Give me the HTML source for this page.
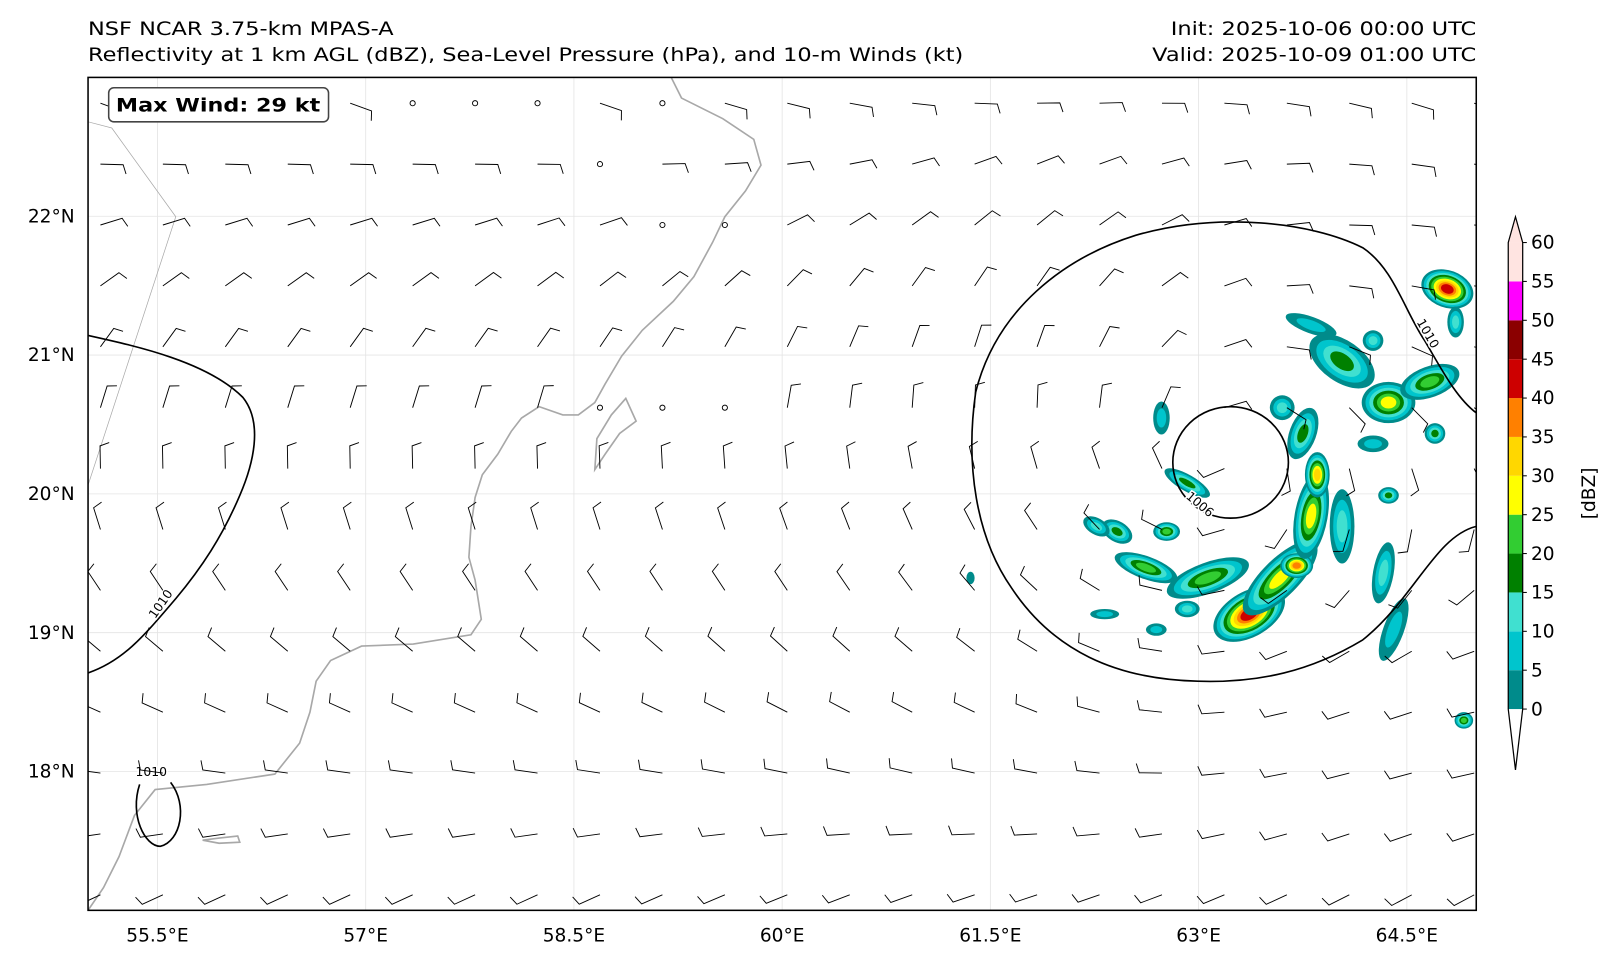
<!DOCTYPE html>
<html><head><meta charset="utf-8"><style>
html,body{margin:0;padding:0;background:#fff;}
svg{display:block;font-family:"DejaVu Sans","Liberation Sans",sans-serif;}
</style></head><body>
<svg id="map" width="1619" height="964" viewBox="0 0 1568 934">
<text x="85" y="34" font-size="18" textLength="296" lengthAdjust="spacingAndGlyphs">NSF NCAR 3.75-km MPAS-A</text>
<text x="85" y="59" font-size="18" textLength="848" lengthAdjust="spacingAndGlyphs">Reflectivity at 1 km AGL (dBZ), Sea-Level Pressure (hPa), and 10-m Winds (kt)</text>
<text x="1430" y="34" font-size="18" text-anchor="end" textLength="296" lengthAdjust="spacingAndGlyphs">Init: 2025-10-06 00:00 UTC</text>
<text x="1430" y="59" font-size="18" text-anchor="end" textLength="314" lengthAdjust="spacingAndGlyphs">Valid: 2025-10-09 01:00 UTC</text>
<defs><clipPath id="clip"><rect x="85" y="75" width="1345" height="807"/></clipPath></defs>
<g id="grid"></g>
<g id="refl" clip-path="url(#clip)"></g>
<g clip-path="url(#clip)" fill="none" stroke="#a8a8a8" stroke-width="1.6">
<path d="M650,75 L660,95 L700,115 L730,135 L737,160 L722,185 L702,210 L690,235 L672,268 L652,292 L622,320 L602,345 L586,372 L576,390 L560,402 L545,402 L522,394 L505,405 L495,418 L482,440 L467,460 L460,482 L456,510 L454,540 L460,562 L466,600 L456,615 L400,624 L350,626 L320,640 L306,660 L300,690 L290,720 L266,750 L200,760 L150,765 L130,790 L115,830 L100,860 L85,882"/>
<path d="M576,455 L578,425 L592,402 L606,386 L616,408 L600,420 L586,440 Z"/>
<path d="M196,814 L212,812 L230,810 L232,816 L212,817 Z"/>
<path d="M85,118 L108,124 L170,210 L85,470" stroke-width="0.7"/>
</g>
<g clip-path="url(#clip)" fill="none" stroke="#000" stroke-width="1.6">
<path d="M85,325 C130,335 200,350 235,385 C255,410 245,450 232,480 C215,520 195,550 170,580 C140,615 120,640 85,652"/>
<path d="M135,760 C125,790 140,820 155,820 C175,815 182,780 165,758"/>
<path d="M1430,510 C1390,520 1370,580 1320,620 C1270,650 1220,662 1160,660 C1080,658 1020,630 980,570 C945,520 935,450 945,380 C965,300 1030,250 1100,228 C1180,205 1270,215 1320,240 C1350,260 1360,300 1380,330 C1395,355 1410,385 1430,400"/>
<ellipse cx="1192" cy="448" rx="56" ry="54"/>
</g>
<text x="150" y="600" font-size="12" transform="rotate(-55 150 600)" stroke="#fff" stroke-width="3" paint-order="stroke">1010</text>
<text x="131" y="752" font-size="12" stroke="#fff" stroke-width="3" paint-order="stroke">1010</text>
<text x="1372" y="312" font-size="12" transform="rotate(60 1372 312)" stroke="#fff" stroke-width="3" paint-order="stroke">1010</text>
<text x="1148" y="482" font-size="12" transform="rotate(40 1148 482)" stroke="#fff" stroke-width="3" paint-order="stroke">1006</text>
<g id="barbs" clip-path="url(#clip)" stroke="#000" stroke-width="0.9" fill="none"></g>
<rect x="85" y="75" width="1345" height="807" fill="none" stroke="#000" stroke-width="1.5"/>
<rect x="105" y="85" width="213" height="33" rx="5" fill="#fff" stroke="#444" stroke-width="1.5"/>
<text x="112" y="108" font-size="18" font-weight="bold" textLength="198" lengthAdjust="spacingAndGlyphs">Max Wind: 29 kt</text>
<g id="axes"></g>
<g id="cbar"></g>
<text x="1545" y="478" font-size="18" text-anchor="middle" transform="rotate(-90 1545 478)">[dBZ]</text>
</svg>
<script>
const NS="http://www.w3.org/2000/svg";
const lonTicks=[55.5,57,58.5,60,61.5,63,64.5];
const lonLabels=["55.5°E","57°E","58.5°E","60°E","61.5°E","63°E","64.5°E"];
const latTicks=[18,19,20,21,22];
const latLabels=["18°N","19°N","20°N","21°N","22°N"];
const cbLevels=[0,5,10,15,20,25,30,35,40,45,50,55,60];
const cbColors=["#008b8b","#00c5cd","#40e0d0","#008000","#32cd32","#ffff00","#ffd700","#ff8000","#cd0000","#8b0000","#ff00ff","#ffe4e1"];
const calmStations=[[5,0],[6,0],[7,0],[9,0],[8,1],[9,2],[10,2],[8,5],[9,5],[10,5]];
const X=lon=>85+(lon-55)*134.5;
const Y=lat=>882-(lat-17)*134.5;
const CB=v=>687-v*(452/60);
function mk(tag,attrs,parent){const e=document.createElementNS(NS,tag);for(const k in attrs)e.setAttribute(k,attrs[k]);parent.appendChild(e);return e;}
const grid=document.getElementById('grid'),axes=document.getElementById('axes');
lonTicks.forEach((l,i)=>{
  const g=mk('line',{x1:X(l),x2:X(l),y1:75,y2:882,stroke:'#e4e4e4','stroke-width':0.8},grid);
  
  
  const t=mk('text',{x:X(l),y:912,'font-size':18,'text-anchor':'middle'},axes);t.textContent=lonLabels[i];
  
  
});
latTicks.forEach((l,i)=>{
  const g=mk('line',{x1:85,x2:1430,y1:Y(l),y2:Y(l),stroke:'#e4e4e4','stroke-width':0.8},grid);
  
  
  const t=mk('text',{x:72,y:Y(l)+6,'font-size':18,'text-anchor':'end'},axes);t.textContent=latLabels[i];
  
  
});
const cb=document.getElementById('cbar');
const cx0=1461,cw=14;
let tri=mk('polygon',{points:`${cx0},${CB(60)} ${cx0+cw/2},210 ${cx0+cw},${CB(60)}`,fill:'#ffe4e1',stroke:'none'},cb);

tri=mk('polygon',{points:`${cx0},${CB(0)} ${cx0+cw/2},746 ${cx0+cw},${CB(0)}`,fill:'#fff',stroke:'none'},cb);

cbColors.forEach((c,i)=>{
  const r=mk('rect',{x:cx0,y:CB(cbLevels[i+1]),width:cw,height:CB(cbLevels[i])-CB(cbLevels[i+1]),fill:c},cb);
  
  
});
mk('path',{d:`M${cx0},${CB(0)} L${cx0},${CB(60)} L${cx0+cw/2},210 L${cx0+cw},${CB(60)} L${cx0+cw},${CB(0)} L${cx0+cw/2},746 Z`,fill:'none',stroke:'#000','stroke-width':1.2},cb);
cbLevels.forEach(v=>{
  mk('line',{x1:cx0+cw,x2:cx0+cw+4,y1:CB(v),y2:CB(v),stroke:'#000'},cb);
  const t=mk('text',{x:cx0+cw+8,y:CB(v)+6,'font-size':18},cb);t.textContent=v;
  
  
});
const blobs=[[1210,595,38,22,-30,8],[1240,560,48,18,-45,5],[1256,548,16,12,0,7],[1270,500,16,42,10,5],[1276,460,12,22,0,6],[1262,420,13,26,20,3],[1242,395,12,12,0,2],
[1170,560,42,15,-20,4],[1110,550,32,11,20,4],[1082,515,16,10,30,3],[1130,515,13,9,0,4],[1062,510,14,8,30,2],[1125,405,8,16,0,1],[1150,468,25,8,30,3],[1150,590,12,8,0,2],
[1300,510,12,36,0,2],[1340,555,10,30,10,2],[1345,480,10,8,0,3],[1330,430,15,8,0,1],[1300,350,36,20,35,3],[1345,390,26,20,0,5],[1385,370,30,15,-20,4],[1402,280,26,18,20,8],
[1410,312,8,15,0,2],[1270,315,26,8,20,1],[1330,330,10,10,0,2],[1390,420,10,10,0,3],[1350,610,10,32,20,1],[1418,698,9,8,0,4],[1120,610,10,6,0,1],[1070,595,14,5,0,1],[940,560,4,6,0,0]];
const refl=document.getElementById('refl');
blobs.forEach(b=>{
  const [cx,cy,rx,ry,rot,mx]=b;
  for(let k=0;k<=mx;k++){
    const f=1-k*0.85/(mx+1);
    const e=mk('ellipse',{cx:cx,cy:cy,rx:rx*f,ry:ry*f,fill:cbColors[k],transform:`rotate(${rot} ${cx} ${cy})`},refl);
    
    
  }
});
const barbs=document.getElementById('barbs');
const cxS=1185,cyS=445;
const isCalm=(i,j)=>calmStations.some(s=>s[0]===i&&s[1]===j);
for(let j=0;j<14;j++){for(let i=0;i<23;i++){
  const x=97+60.5*i,y=100+59*j;
  if(isCalm(i,j)){
    const c=mk('circle',{cx:x,cy:y,r:2.5},barbs);
    
    
    continue;
  }
  // background flow: direction the wind blows toward (geo degrees)
  let th;
  if(y<450) th=160+(y-100)/350*110; else th=270+(y-450)/400*110;
  th=th*Math.PI/180;
  let ub=Math.cos(th),vb=Math.sin(th);
  const dx=x-cxS,dn=-(y-cyS);
  const r=Math.hypot(dx,dn);
  const w=Math.exp(-Math.pow(r/330,2));
  let uv=(-dn-0.3*dx)/(r||1),vv=(dx-0.3*dn)/(r||1);
  let u=ub*(1-w)+uv*w*1.5,v=vb*(1-w)+vv*w*1.5;
  const m=Math.hypot(u,v)||1;
  const sx=-u/m,sy=v/m;
  const L=22,ex=x+sx*L,ey=y+sy*L;
  const px=-sy,py=sx;
  const g=mk('path',{d:`M${x},${y} L${ex.toFixed(1)},${ey.toFixed(1)} L${(ex+px*9+sx*3).toFixed(1)},${(ey+py*9+sy*3).toFixed(1)}`},barbs);
  
  
}}
</script>
</body></html>
